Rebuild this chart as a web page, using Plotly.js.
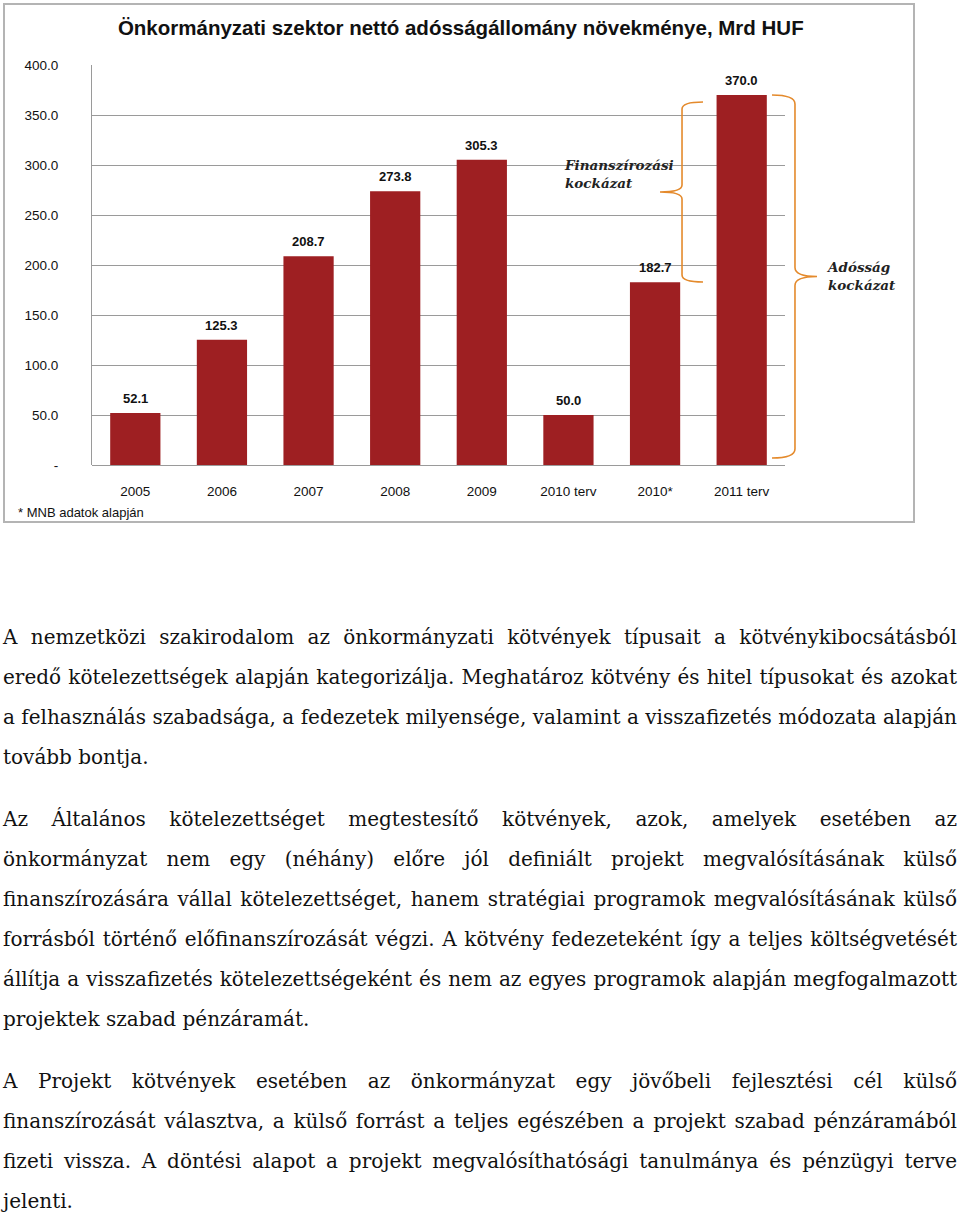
<!DOCTYPE html>
<html>
<head>
<meta charset="utf-8">
<script src="https://cdn.plot.ly/plotly-3.0.1.min.js"></script>
<style>
  html, body { margin: 0; padding: 0; background: #fff; width: 960px; height: 1213px; overflow: hidden; }
  #box { position: absolute; left: 3px; top: 3px; width: 908px; height: 516px; border: 2px solid #b4b4b4; }
  #chart { width: 908px; height: 516px; }
  #text { position: absolute; left: 3px; top: 617px; width: 954px; font-family: "DejaVu Serif", serif; font-size: 20px; color: #111; }
  .p { margin: 0 0 22px 0; }
  .l { display: block; height: 40px; line-height: 40px; white-space: nowrap; text-align: justify; text-align-last: justify; }
  .last { text-align: left; text-align-last: left; }
</style>
</head>
<body>
<div id="box"><div id="chart"></div></div>
<div id="text"></div>
<script>
const categories = ["2005", "2006", "2007", "2008", "2009", "2010 terv", "2010*", "2011 terv"];
const values = [52.1, 125.3, 208.7, 273.8, 305.3, 50.0, 182.7, 370.0];
const yTickVals = [0, 50, 100, 150, 200, 250, 300, 350, 400];
const yTickText = ["-", "50.0", "100.0", "150.0", "200.0", "250.0", "300.0", "350.0", "400.0"];
const titleText = "Önkormányzati szektor nettó adósságállomány növekménye, Mrd HUF";
const noteText = "* MNB adatok alapján";
const riskLabels = ["Finanszírozási<br>kockázat", "Adósság<br>kockázat"];

const paragraphs = [
  ["A nemzetközi szakirodalom az önkormányzati kötvények típusait a kötvénykibocsátásból",
   "eredő kötelezettségek alapján kategorizálja. Meghatároz kötvény és hitel típusokat és azokat",
   "a felhasználás szabadsága, a fedezetek milyensége, valamint a visszafizetés módozata alapján",
   "tovább bontja."],
  ["Az Általános kötelezettséget megtestesítő kötvények, azok, amelyek esetében az",
   "önkormányzat nem egy (néhány) előre jól definiált projekt megvalósításának külső",
   "finanszírozására vállal kötelezettséget, hanem stratégiai programok megvalósításának külső",
   "forrásból történő előfinanszírozását végzi. A kötvény fedezeteként így a teljes költségvetését",
   "állítja a visszafizetés kötelezettségeként és nem az egyes programok alapján megfogalmazott",
   "projektek szabad pénzáramát."],
  ["A Projekt kötvények esetében az önkormányzat egy jövőbeli fejlesztési cél külső",
   "finanszírozását választva, a külső forrást a teljes egészében a projekt szabad pénzáramából",
   "fizeti vissza. A döntési alapot a projekt megvalósíthatósági tanulmánya és pénzügyi terve",
   "jelenti."]
];

const textDiv = document.getElementById("text");
paragraphs.forEach(lines => {
  const p = document.createElement("div");
  p.className = "p";
  lines.forEach((ln, i) => {
    const s = document.createElement("span");
    s.className = "l" + (i === lines.length - 1 ? " last" : "");
    s.textContent = ln;
    p.appendChild(s);
  });
  textDiv.appendChild(p);
});

const barColor = "#9E1F22";
const braceColor = "#E48A2C";
const sansFont = "Liberation Sans, Arial, sans-serif";

const trace = {
  type: "bar",
  x: categories,
  y: values,
  marker: { color: barColor },
  hoverinfo: "x+y"
};

function brace(xEnd, xSpine, xTip, yTop, yBot, r) {
  const yMid = (yTop + yBot) / 2;
  return `M ${xEnd},${yTop} Q ${xSpine},${yTop} ${xSpine},${yTop - r} L ${xSpine},${yMid + r} Q ${xSpine},${yMid} ${xTip},${yMid} Q ${xSpine},${yMid} ${xSpine},${yMid - r} L ${xSpine},${yBot + r} Q ${xSpine},${yBot} ${xEnd},${yBot}`;
}

// value labels placed at category index positions
const valueLabels = values.map((v, i) => ({
  text: "<b>" + v.toFixed(1) + "</b>",
  x: i, y: v, xref: "x", yref: "y",
  xanchor: "center", yanchor: "bottom", yshift: 5, showarrow: false,
  font: { family: sansFont, size: 13, color: "#111" }
}));

const layout = {
  width: 908, height: 516,
  margin: { l: 87, r: 128, t: 60, b: 56 },
  paper_bgcolor: "#fff", plot_bgcolor: "#fff",
  showlegend: false,
  bargap: 0.42,
  title: {
    text: "<b>" + titleText + "</b>",
    font: { family: sansFont, size: 20.5, color: "#111" },
    x: 0.502, xref: "container", xanchor: "center",
    y: 0.955, yref: "container", yanchor: "middle"
  },
  xaxis: {
    type: "category",
    categoryorder: "array", categoryarray: categories,
    range: [-0.5, categories.length - 0.5],
    autorange: false,
    tickfont: { family: sansFont, size: 13.5, color: "#111" },
    ticks: "", showgrid: false, showline: false,
    ticklabelstandoff: 16
  },
  yaxis: {
    range: [0, 400], autorange: false,
    tickvals: yTickVals, ticktext: yTickText,
    tickfont: { family: sansFont, size: 13.5, color: "#111" },
    ticks: "", showgrid: true, gridcolor: "#9a9a9a", gridwidth: 1,
    showline: true, linecolor: "#9a9a9a", linewidth: 1,
    zeroline: true, zerolinecolor: "#9a9a9a", zerolinewidth: 1,
    ticklabelstandoff: 30
  },
  shapes: [
    { type: "path", xref: "paper", yref: "y",
      path: brace(0.8817, 0.8514, 0.8196, 363, 183, 7),
      line: { color: braceColor, width: 1.6 } },
    { type: "path", xref: "paper", yref: "y",
      path: brace(0.9812, 1.0144, 1.0462, 370, 7, 9),
      line: { color: braceColor, width: 1.6 } }
  ],
  annotations: valueLabels.concat([
    { text: "<b><i>" + riskLabels[0] + "</i></b>", xref: "paper", yref: "y",
      x: 0.678, y: 291, xanchor: "left", yanchor: "middle", align: "left", showarrow: false,
      font: { family: "DejaVu Serif, serif", size: 13.5, color: "#222" } },
    { text: "<b><i>" + riskLabels[1] + "</i></b>", xref: "paper", yref: "y",
      x: 1.0563, y: 189, xanchor: "left", yanchor: "middle", align: "left", showarrow: false,
      font: { family: "DejaVu Serif, serif", size: 13.5, color: "#222" } },
    { text: noteText, xref: "paper", yref: "paper",
      x: -0.1097, y: -0.1175, xanchor: "left", yanchor: "middle", showarrow: false,
      font: { family: sansFont, size: 13, color: "#111" } }
  ])
};

Plotly.newPlot("chart", [trace], layout, { displayModeBar: false, staticPlot: true });
</script>
</body>
</html>
